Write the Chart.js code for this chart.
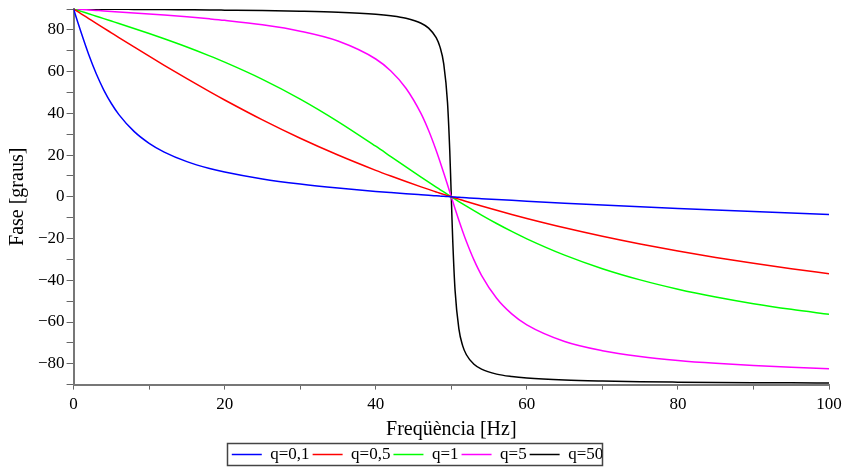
<!DOCTYPE html>
<html>
<head>
<meta charset="utf-8">
<script src="https://cdn.jsdelivr.net/npm/chart.js@4.4.1/dist/chart.umd.min.js"></script>
<style>
  html, body { margin: 0; padding: 0; background: #fff; }
  #chart { display: block; }
</style>
</head>
<body>
<canvas id="chart" width="843" height="470"></canvas>
<script>
// frequency samples [Hz]
let freq = [0, 0.5, 1, 2, 3, 4, 5, 6, 8, 10, 12, 15, 18, 20, 25, 30, 35, 40, 42, 44, 46, 47, 48, 48.5, 49, 49.5, 49.8, 49.9, 50,
    50.1, 50.2, 50.5, 51, 51.5, 52, 53, 54, 56, 58, 60, 65, 70, 75, 80, 85, 90, 95, 100];

// phase [graus] for each q
let q01 = [90, 84.29, 78.69, 68.17, 58.94, 51.16, 44.71, 39.40, 31.34, 25.64, 21.43, 16.87, 13.59, 11.86, 8.53, 6.09, 4.17, 2.58, 2.01,
    1.47, 0.96, 0.71, 0.47, 0.35, 0.23, 0.12, 0.05, 0.02, 0, -0.02, -0.05, -0.11, -0.23, -0.34, -0.45, -0.67, -0.88, -1.30, -1.71,
    -2.10, -3.04, -3.92, -4.76, -5.57, -6.34, -7.09, -7.82, -8.53];
let q05 = [90, 88.85, 87.71, 85.42, 83.13, 80.85, 78.58, 76.31, 71.82, 67.38, 63.01, 56.60, 50.40, 46.40, 36.87, 28.07, 20.02, 12.68,
    9.94, 7.30, 4.77, 3.54, 2.34, 1.74, 1.16, 0.58, 0.23, 0.11, 0, -0.11, -0.23, -0.57, -1.13, -1.69, -2.25, -3.34, -4.41, -6.48,
    -8.47, -10.39, -14.86, -18.92, -22.62, -25.99, -29.07, -31.89, -34.48, -36.87];
let q1 = [90, 89.43, 88.85, 87.71, 86.55, 85.40, 84.23, 83.06, 80.68, 78.23, 75.71, 71.76, 67.53, 64.54, 56.31, 46.85, 36.08, 24.23,
    19.31, 14.38, 9.48, 7.06, 4.67, 3.49, 2.31, 1.15, 0.46, 0.23, 0, -0.23, -0.46, -1.14, -2.27, -3.38, -4.49, -6.65, -8.76, -12.80,
    -16.59, -20.14, -27.96, -34.44, -39.81, -44.28, -48.03, -51.22, -53.94, -56.31];
let q5 = [90, 89.89, 89.77, 89.54, 89.31, 89.08, 88.84, 88.61, 88.12, 87.61, 87.08, 86.23, 85.27, 84.56, 82.41, 79.38, 74.65, 66.04,
    60.29, 52.04, 39.86, 31.76, 22.21, 16.94, 11.42, 5.74, 2.30, 1.15, 0, -1.14, -2.29, -5.68, -11.20, -16.47, -21.42, -30.25, -37.61,
    -48.64, -56.13, -61.39, -69.35, -73.74, -76.50, -78.41, -79.80, -80.87, -81.72, -82.41];
let q50 = [90, 89.99, 89.98, 89.95, 89.93, 89.91, 89.88, 89.86, 89.81, 89.76, 89.71, 89.62, 89.53, 89.45, 89.24, 88.93, 88.43, 87.46,
    86.73, 85.54, 83.17, 80.83, 76.24, 71.83, 63.67, 45.14, 21.84, 11.32, 0, -11.30, -21.76, -44.86, -63.21, -71.31, -75.70, -80.27,
    -82.60, -84.97, -86.16, -86.88, -87.84, -88.33, -88.63, -88.82, -88.97, -89.08, -89.17, -89.24];

let seriesNames = ['q=0,1', 'q=0,5', 'q=1', 'q=5', 'q=50'];
let seriesData = [q01, q05, q1, q5, q50];
let seriesColors = ['#0000ff', '#ff0000', '#00ff00', '#ff00ff', '#000000'];

let xTicks = [0, 20, 40, 60, 80, 100];
let yTicks = [-80, -60, -40, -20, 0, 20, 40, 60, 80];

const serif = '"Liberation Serif", "Times New Roman", serif';

function toPoints(values) {
    let pts = [];
    for (let i = 0; i < freq.length; i++) {
        pts.push({ x: freq[i], y: values[i] });
    }
    return pts;
}

let datasets = [];
for (let i = 0; i < seriesNames.length; i++) {
    datasets.push({
        label: seriesNames[i],
        data: toPoints(seriesData[i]),
        borderColor: seriesColors[i],
        backgroundColor: seriesColors[i],
        borderWidth: 1.5,
        pointRadius: 0,
        fill: false,
        cubicInterpolationMode: 'monotone'
    });
}

// box around the legend items
const legendBorder = {
    id: 'legend_border',
    afterDraw: (chart) => {
        const boxes = chart.legend.legendHitBoxes;
        if (!boxes || !boxes.length) return;
        let x0 = Infinity, x1 = -Infinity, y0 = Infinity, y1 = -Infinity;
        boxes.forEach(b => {
            x0 = Math.min(x0, b.left);
            x1 = Math.max(x1, b.left + b.width);
            y0 = Math.min(y0, b.top);
            y1 = Math.max(y1, b.top + b.height);
        });
        const ctx = chart.ctx;
        ctx.save();
        ctx.strokeStyle = '#444';
        ctx.lineWidth = 1.5;
        ctx.strokeRect(Math.round(x0 - 5) + 0.5, Math.round(y0 - 3) + 0.5, Math.round(x1 - x0 + 4), Math.round(y1 - y0 + 5));
        ctx.restore();
    }
};

function tickLabel(list) {
    return function (value) {
        if (list.indexOf(value) < 0) return '';
        return value < 0 ? '\u2212' + Math.abs(value) : String(value);
    };
}

// let the layout padding alone decide where the plot area ends
function noEdgePadding(scale) {
    scale.paddingTop = 0;
    scale.paddingBottom = 0;
    scale.paddingLeft = 0;
    scale.paddingRight = 0;
}

const config = {
    type: 'line',
    data: { datasets: datasets },
    options: {
        responsive: false,
        animation: false,
        layout: {
            padding: { left: 6, right: 14, top: 9, bottom: -3 }
        },
        plugins: {
            legend: {
                position: 'bottom',
                labels: {
                    usePointStyle: true,
                    pointStyle: 'line',
                    pointStyleWidth: 30,
                    boxHeight: 15,
                    padding: 3,
                    color: '#000',
                    font: { family: serif, size: 17 }
                }
            },
            tooltip: { enabled: false }
        },
        scales: {
            x: {
                type: 'linear',
                min: 0,
                max: 100,
                afterFit: noEdgePadding,
                ticks: {
                    stepSize: 10,
                    autoSkip: false,
                    maxRotation: 0,
                    color: '#000',
                    padding: 5,
                    font: { family: serif, size: 17 },
                    callback: tickLabel(xTicks)
                },
                grid: {
                    drawOnChartArea: false,
                    tickLength: 5,
                    tickColor: '#666',
                    tickWidth: 1
                },
                border: { color: '#777', width: 2 },
                title: {
                    display: true,
                    text: 'Freqüència [Hz]',
                    color: '#000',
                    padding: { top: 0, bottom: 3 },
                    font: { family: serif, size: 20, lineHeight: 1.0 }
                }
            },
            y: {
                min: -90,
                max: 90,
                afterFit: noEdgePadding,
                ticks: {
                    stepSize: 10,
                    autoSkip: false,
                    color: '#000',
                    padding: 2,
                    font: { family: serif, size: 17 },
                    callback: tickLabel(yTicks)
                },
                grid: {
                    drawOnChartArea: false,
                    tickLength: 7,
                    tickColor: '#666',
                    tickWidth: 1
                },
                border: { color: '#777', width: 2 },
                title: {
                    display: true,
                    text: 'Fase [graus]',
                    color: '#000',
                    padding: { top: 0, bottom: 6 },
                    font: { family: serif, size: 20 }
                }
            }
        }
    },
    plugins: [legendBorder]
};

let chart = new Chart(document.getElementById('chart'), config);
</script>
</body>
</html>
